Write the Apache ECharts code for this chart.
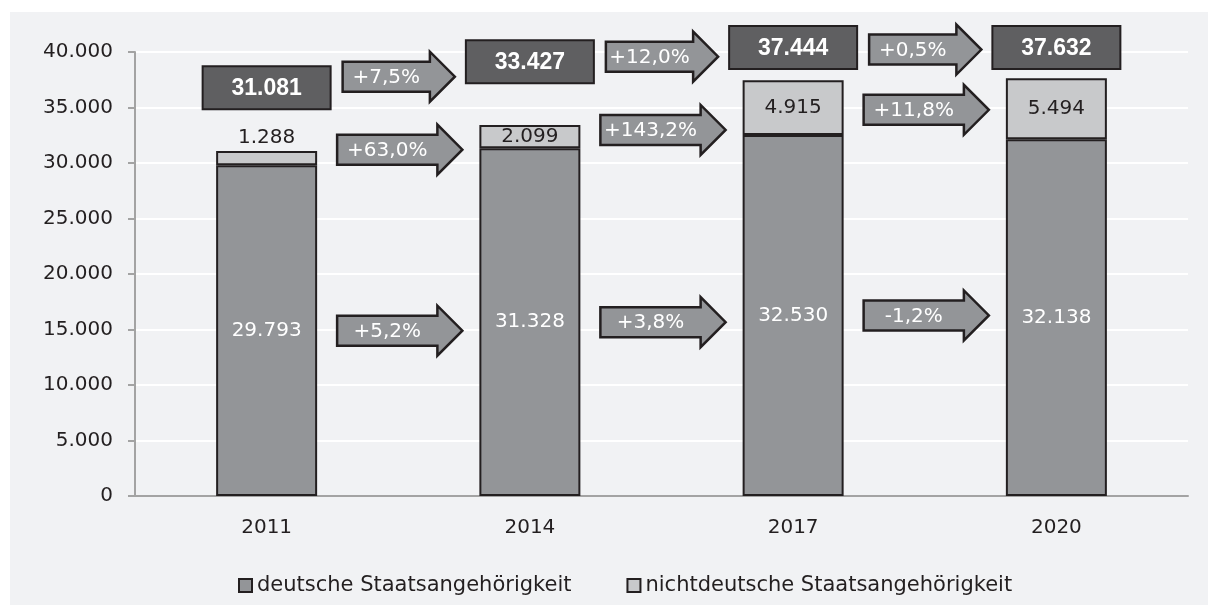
<!DOCTYPE html>
<html>
<head>
<meta charset="utf-8">
<script src="https://cdn.jsdelivr.net/npm/echarts@6/dist/echarts.min.js"></script>
<style>
	html, body { margin: 0; padding: 0; background: #ffffff; }
	#show { position: absolute; left: 10px; top: 12px; width: 1198px; height: 593px; background: #f1f2f4; }
</style>
</head>
<body>
<div id="show"></div>
<script>
// Jahre
var years = ['2011', '2014', '2017', '2020'];
// Werte je Staatsangehörigkeit
var deutsch = [29793, 31328, 32530, 32138];
var nichtdeutsch = [1288, 2099, 4915, 5494];
var gesamt = [31081, 33427, 37444, 37632];
// Veränderungen zwischen den Jahren
var changeGesamt = ['+7,5%', '+12,0%', '+0,5%'];
var changeNicht = ['+63,0%', '+143,2%', '+11,8%'];
var changeDeutsch = ['+5,2%', '+3,8%', '-1,2%'];

var FONT = '"DejaVu Sans", sans-serif';
var INK = '#231f20';
var BAR = '#939598';
var BAR_LIGHT = '#c8c9cb';
var BOX = '#5f5f61';
var barW = 101;

function fmt(v) {
	return String(v).replace(/\B(?=(\d{3})+(?!\d))/g, '.');
}

// Pfeil von x0 bis x1 auf Höhe yc
function arrow(x0, x1, yc, text) {
	var headLen = 25, bodyH = 30, headH = 50;
	var neck = x1 - headLen;
	return {
		type: 'group',
		children: [{
			type: 'polygon',
			shape: {
				points: [[x0, yc - bodyH / 2], [neck, yc - bodyH / 2], [neck, yc - headH / 2], [x1, yc],
					[neck, yc + headH / 2], [neck, yc + bodyH / 2], [x0, yc + bodyH / 2]]
			},
			style: { fill: BAR, stroke: INK, lineWidth: 2.5, lineJoin: 'miter' }
		}, {
			type: 'text',
			x: (x0 + neck) / 2,
			y: yc + 1,
			style: { text: text, fill: '#ffffff', font: '20px ' + FONT, align: 'center', verticalAlign: 'middle' }
		}]
	};
}

// Höhe der Summenkästen
function boxLevel(i) {
	return Math.min(gesamt[i] + 5700, 40400);
}

var idx = years.map(function(y, i) { return [i]; });
var idx3 = idx.slice(0, 3);

var myEchart = echarts.init(document.getElementById('show'));

var option = {
	animation: false,
	grid: { left: 125, right: 20, top: 40, bottom: 109 },
	legend: {
		left: 223,
		top: 558,
		itemWidth: 13,
		itemHeight: 13,
		itemGap: 55,
		icon: 'rect',
		textStyle: { fontFamily: FONT, fontSize: 21, color: INK },
		data: ['deutsche Staatsangehörigkeit', 'nichtdeutsche Staatsangehörigkeit']
	},
	xAxis: {
		type: 'category',
		data: years,
		axisLine: { lineStyle: { color: '#a3a3a3', width: 2 } },
		axisTick: { length: 7, lineStyle: { color: '#a3a3a3', width: 2 } },
		axisLabel: { fontFamily: FONT, fontSize: 20, color: INK, margin: 22 }
	},
	yAxis: {
		type: 'value',
		min: 0,
		max: 40000,
		interval: 5000,
		axisLine: { show: true, lineStyle: { color: '#a3a3a3', width: 2 } },
		axisTick: { show: true, length: 7, lineStyle: { color: '#a3a3a3', width: 2 } },
		axisLabel: { fontFamily: FONT, fontSize: 20, color: INK, margin: 22, formatter: fmt },
		splitLine: { lineStyle: { color: '#ffffff', width: 2 } }
	},
	series: [{
		name: 'deutsche Staatsangehörigkeit',
		type: 'bar',
		stack: 'a',
		barWidth: barW,
		data: deutsch,
		itemStyle: { color: BAR, borderColor: INK, borderWidth: 2 },
		label: {
			show: true, position: 'inside', color: '#ffffff',
			fontFamily: FONT, fontSize: 20,
			formatter: function(p) { return fmt(p.value); }
		}
	}, {
		name: 'nichtdeutsche Staatsangehörigkeit',
		type: 'bar',
		stack: 'a',
		barWidth: barW,
		data: nichtdeutsch.map(function(v) {
			return { value: v, label: { position: v < 2000 ? 'top' : 'inside' } };
		}),
		itemStyle: { color: BAR_LIGHT, borderColor: INK, borderWidth: 2 },
		label: {
			show: true, color: INK, distance: 3,
			fontFamily: FONT, fontSize: 20,
			formatter: function(p) { return fmt(p.value); }
		}
	}, {
		// Summenkästen
		type: 'custom',
		z: 5,
		data: idx,
		renderItem: function(params, api) {
			var i = params.dataIndex;
			var c = api.coord([i, boxLevel(i)]);
			return {
				type: 'group',
				children: [{
					type: 'rect',
					shape: { x: c[0] - 64, y: c[1] - 21.5, width: 128, height: 43 },
					style: { fill: BOX, stroke: INK, lineWidth: 2 }
				}, {
					type: 'text',
					x: c[0], y: c[1] + 1,
					style: { text: fmt(gesamt[i]), fill: '#ffffff', font: 'bold 23px "Liberation Sans", Arial, sans-serif', align: 'center', verticalAlign: 'middle' }
				}]
			};
		}
	}, {
		// Pfeile Gesamt
		type: 'custom',
		z: 5,
		data: idx3,
		renderItem: function(params, api) {
			var i = params.dataIndex;
			var a = api.coord([i, boxLevel(i)]);
			var b = api.coord([i + 1, boxLevel(i + 1)]);
			return arrow(a[0] + 64 + 12, b[0] - 64 - 11, (a[1] + b[1]) / 2 + 2, changeGesamt[i]);
		}
	}, {
		// Pfeile nichtdeutsch
		type: 'custom',
		z: 5,
		data: idx3,
		renderItem: function(params, api) {
			var i = params.dataIndex;
			var a = api.coord([i, gesamt[i]]);
			var b = api.coord([i + 1, deutsch[i + 1]]);
			return arrow(a[0] + barW / 2 + 20, b[0] - barW / 2 - 17, (a[1] + b[1]) / 2, changeNicht[i]);
		}
	}, {
		// Pfeile deutsch
		type: 'custom',
		z: 5,
		data: idx3,
		renderItem: function(params, api) {
			var i = params.dataIndex;
			var a = api.coord([i, deutsch[i] / 2]);
			var b = api.coord([i + 1, 0]);
			return arrow(a[0] + barW / 2 + 20, b[0] - barW / 2 - 17, a[1], changeDeutsch[i]);
		}
	}]
};

myEchart.setOption(option);
</script>
</body>
</html>
